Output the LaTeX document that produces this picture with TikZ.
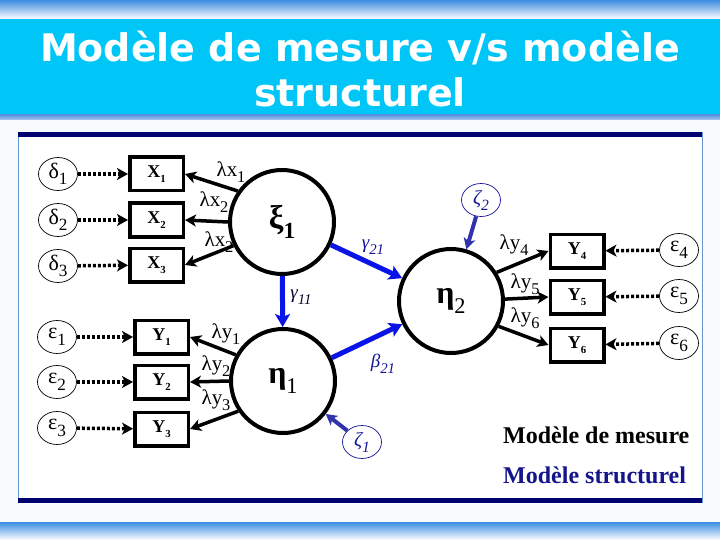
\documentclass[tikz,border=0pt]{standalone}
\usepackage{fontspec}
\usepackage{graphicx}
\setmainfont{Liberation Serif}
\newfontfamily\titlefont{DejaVu Sans}
\usetikzlibrary{arrows.meta,shapes.geometric}
\definecolor{titlecyan}{RGB}{0,198,248}
\definecolor{barblue}{RGB}{60,140,225}
\definecolor{stripblue}{RGB}{90,150,225}
\definecolor{navyband}{RGB}{0,0,110}
\definecolor{frameline}{RGB}{100,150,210}
\definecolor{pathblue}{RGB}{10,20,230}
\definecolor{zetablue}{RGB}{50,50,170}
\definecolor{labblue}{RGB}{20,20,150}
\definecolor{legnavy}{RGB}{20,20,140}
\definecolor{pagebg}{RGB}{247,251,254}
\newcommand\lo[2][0.78]{\raisebox{-0.3em}{\scalebox{#1}{#2}}}
\newcommand\fs[1]{\fontsize{#1}{#1}\selectfont}
\begin{document}
\begin{tikzpicture}[x=1pt,y=-1pt,
  ttl/.style={font=\titlefont\bfseries\fs{38}, anchor=base, inner sep=0},
  ind/.style={rectangle, draw, line width=3.5pt, minimum width=53.5pt, minimum height=33.5pt, inner sep=0, font=\bfseries\fs{18}},
  err/.style={ellipse, draw, line width=0.7pt, minimum width=39pt, minimum height=33pt, inner sep=0, font=\fs{22}},
  lat/.style={circle, draw, line width=4pt, minimum size=104pt, inner sep=0},
  lab/.style={inner sep=0, font=\fs{21}},
  load/.style={line width=3.5pt, -{Stealth[length=11pt,width=12pt,inset=3pt]}},
  dots/.style={line width=3.5pt, dash pattern=on 3pt off 2pt, -{Stealth[length=11pt,width=12pt,inset=3pt]}},
  path/.style={pathblue, line width=5pt, -{Stealth[length=13pt,width=15pt,inset=3pt]}},
  zet/.style={zetablue, line width=4pt, -{Stealth[length=11pt,width=12pt,inset=3pt]}},
  plab/.style={inner sep=0, font=\itshape\fs{19}, labblue}
]
\useasboundingbox (0,0) rectangle (720,540);
\fill[pagebg] (0,0) rectangle (720,540);
% title band
\shade[top color=barblue, bottom color=white] (0,0) rectangle (720,19);
\fill[titlecyan] (0,19) rectangle (720,115);
\shade[top color=stripblue, bottom color=stripblue!50!white] (0,115) rectangle (720,120);
\shade[top color=barblue, bottom color=white] (0,522) rectangle (720,540);
\node[ttl, white] (t1) at (360,62) {Modèle de mesure v/s modèle};
\node[ttl, white] (t2) at (360,107) {structurel};
% frame
\fill[white] (18,132) rectangle (702,503);
\draw[frameline, line width=1pt] (18,132) -- (18,503);
\draw[frameline, line width=1pt] (702,132) -- (702,503);
\fill[navyband] (18,132) rectangle (702,137);
\fill[navyband] (18,498) rectangle (702,503);

% latent variables
\node[lat, font=\bfseries\fs{33}] (xi1) at (282,222) {ξ\lo[0.7]{1}};
\node[lat, font=\fs{32}] (eta1) at (283,381) {{\bfseries η}\lo[0.7]{1}};
\node[lat, font=\fs{32}] (eta2) at (451,301) {{\bfseries η}\lo[0.7]{2}};

% indicators
\node[ind] (x1) at (156.5,174) {X\lo[0.6]{1}};
\node[ind] (x2) at (156.5,220) {X\lo[0.6]{2}};
\node[ind] (x3) at (156.5,265) {X\lo[0.6]{3}};
\node[ind] (y1) at (161.5,337) {Y\lo[0.6]{1}};
\node[ind] (y2) at (161.5,382) {Y\lo[0.6]{2}};
\node[ind] (y3) at (161.5,429) {Y\lo[0.6]{3}};
\node[ind] (y4) at (577,251) {Y\lo[0.6]{4}};
\node[ind] (y5) at (577,297) {Y\lo[0.6]{5}};
\node[ind] (y6) at (577,345) {Y\lo[0.6]{6}};

% errors
\node[err] (d1) at (58,174) {δ\lo{1}};
\node[err] (d2) at (58,220) {δ\lo{2}};
\node[err] (d3) at (58,266) {δ\lo{3}};
\node[err] (e1) at (57,337) {ε\lo{1}};
\node[err] (e2) at (57,382) {ε\lo{2}};
\node[err] (e3) at (57,428) {ε\lo{3}};
\node[err] (e4) at (679,250) {ε\lo{4}};
\node[err] (e5) at (679,296) {ε\lo{5}};
\node[err] (e6) at (679,343) {ε\lo{6}};
\node[err, font=\itshape\fs{20}, labblue] (z2) at (481,200) {ζ\lo{2}};
\node[err, font=\itshape\fs{20}, labblue] (z1) at (362,442) {ζ\lo{1}};

% dotted error arrows
\foreach \a/\b in {d1/x1,d2/x2,d3/x3,e1/y1,e2/y2,e3/y3,e4/y4,e5/y5,e6/y6}
  \draw[dots] (\a) -- (\b);

% loadings
\draw[load] (xi1.145) -- (x1.east);
\draw[load] (xi1.180) -- (x2.east);
\draw[load] (xi1.206) -- (x3.east);
\draw[load] (eta1.151) -- (y1.east);
\draw[load] (eta1.180) -- (y2.east);
\draw[load] (eta1.214) -- (y3.east);
\draw[load] (eta2.32) -- (y4.west);
\draw[load] (eta2.2) -- (y5.west);
\draw[load] (eta2.332) -- (y6.west);

\node[lab] (lx1) at (231,172) {λx\lo{1}};
\node[lab] (lx2) at (214,202) {λx\lo{2}};
\node[lab] (lx3) at (219,242) {λx\lo{2}};
\node[lab] (ly1) at (226,334) {λy\lo{1}};
\node[lab] (ly2) at (216,366) {λy\lo{2}};
\node[lab] (ly3) at (216,400) {λy\lo{3}};
\node[lab] (ly4) at (514,245) {λy\lo{4}};
\node[lab] (ly5) at (525,284) {λy\lo{5}};
\node[lab] (ly6) at (525,318) {λy\lo{6}};

% structural paths
\draw[path] (xi1) -- (eta2);
\draw[path] (xi1) -- (eta1);
\draw[path] (eta1) -- (eta2);
\draw[zet] (z2) -- (eta2);
\draw[zet] (z1) -- (eta1);

\node[plab] (g21) at (373,247) {γ\lo{21}};
\node[plab, black!70!labblue] (g11) at (301,297) {γ\lo{11}};
\node[plab] (b21) at (383,364) {β\lo{21}};

% legend
\node[anchor=west, inner sep=0, font=\bfseries\fs{24}] (leg1) at (503,435) {Modèle de mesure};
\node[anchor=west, inner sep=0, font=\bfseries\fs{24}, legnavy] (leg2) at (503,475) {Modèle structurel};
\end{tikzpicture}
\end{document}
